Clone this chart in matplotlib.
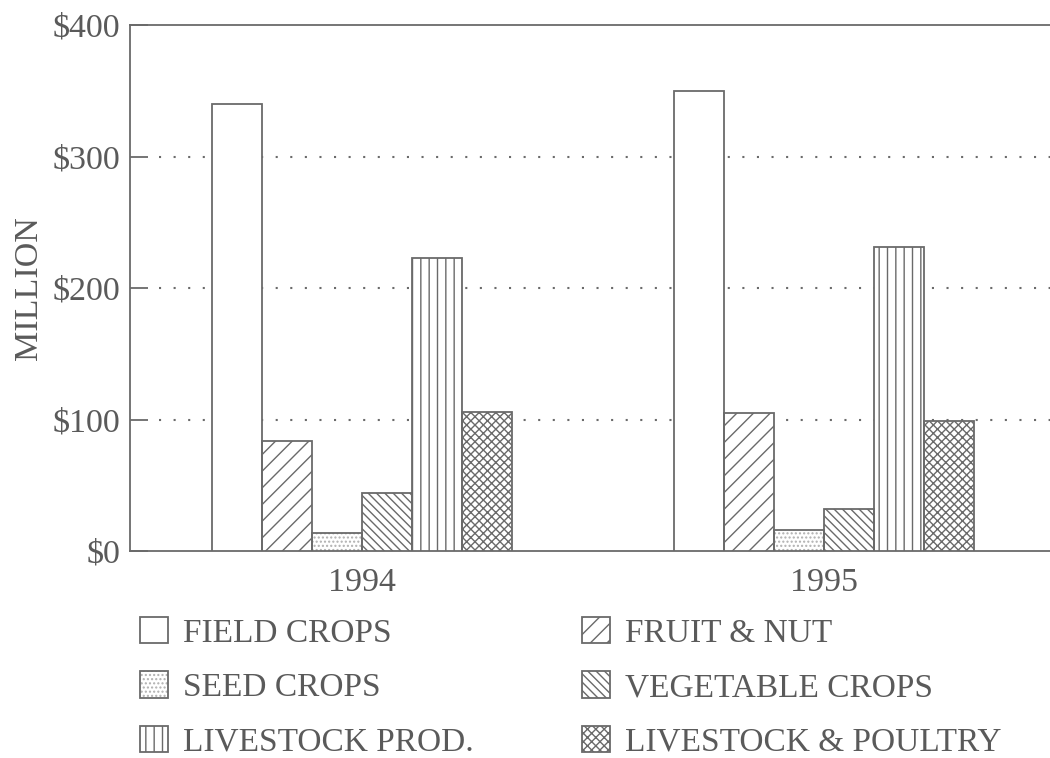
import numpy as np
import matplotlib
matplotlib.use('Agg')
import matplotlib.pyplot as plt
from matplotlib.patches import Rectangle

years = ['1994', '1995']
categories = ['FIELD CROPS', 'FRUIT & NUT', 'SEED CROPS',
              'VEGETABLE CROPS', 'LIVESTOCK PROD.', 'LIVESTOCK & POULTRY']
field_crops = [340, 350]
fruit_nut = [84, 105]
seed_crops = [14, 16]
vegetable_crops = [44, 32]
livestock_prod = [223, 231]
livestock_poultry = [106, 99]
y_ticks = [0, 100, 200, 300, 400]
y_tick_labels = ['$0', '$100', '$200', '$300', '$400']

series = [field_crops, fruit_nut, seed_crops,
          vegetable_crops, livestock_prod, livestock_poultry]
hatches = ['', '//', '....', '\\\\\\\\', '||', 'xxxx']

line_c = '#6a6a6a'
text_c = '#5a5a5a'
dot_c = '#b0b0b0'

plt.rcParams['font.family'] = 'Liberation Serif'
plt.rcParams['hatch.linewidth'] = 1.0
plt.rcParams['hatch.color'] = line_c

fig = plt.figure(figsize=(10.5, 7.58), dpi=100)
ax = fig.add_axes([130 / 1050, 1 - 551 / 758, 925 / 1050, 526 / 758])

x = np.arange(len(years))
w = 50 / 462
for i, (vals, h) in enumerate(zip(series, hatches)):
    ec = dot_c if h == '....' else line_c
    # hatch fill first, then the outline on top
    ax.bar(x + (i - 2.5) * w, vals, w, color='white', edgecolor=ec,
           hatch=h, linewidth=0, zorder=3)
    ax.bar(x + (i - 2.5) * w, vals, w, fill=False, edgecolor=line_c,
           linewidth=1.3, zorder=4)

ax.hlines([100, 200, 300], -0.44, 1.5, colors=line_c, linewidth=1.5,
          linestyles=(0, (1, 6)), zorder=1)

ax.set_xlim(-0.502, 1.5)
ax.set_ylim(0, 400)
ax.set_yticks(y_ticks)
ax.set_yticklabels(y_tick_labels)
ax.set_xticks(x)
ax.set_xticklabels(years)
ax.tick_params(axis='y', direction='in', length=13, width=1.3, color=line_c,
               labelsize=24.5, labelcolor=text_c, pad=7)
ax.tick_params(axis='x', length=0, labelsize=24.5, labelcolor=text_c, pad=12)
ax.set_ylabel('MILLION', fontsize=24.5, color=text_c, labelpad=6)
for s in ['left', 'top', 'bottom']:
    ax.spines[s].set_color(line_c)
    ax.spines[s].set_linewidth(1.3)
ax.spines['right'].set_visible(False)

handles = []
for h in hatches:
    ec = dot_c if h == '....' else line_c
    fill = Rectangle((0, 0), 1, 1, facecolor='white', edgecolor=ec,
                     hatch=h, linewidth=0)
    edge = Rectangle((0, 0), 1, 1, fill=False, edgecolor=line_c,
                     linewidth=1.3)
    handles.append((fill, edge))

cols = [(0, 2, 4), (1, 3, 5)]
anchors = [(140 / 1050, 1 - 617 / 758), (582 / 1050, 1 - 617 / 758)]
for idx, anc in zip(cols, anchors):
    fig.legend([handles[i] for i in idx], [categories[i] for i in idx],
               loc='upper left', bbox_to_anchor=anc, frameon=False,
               fontsize=24, labelcolor=text_c, handlelength=0.84,
               handleheight=0.84, handletextpad=0.45, labelspacing=0.68,
               borderpad=0, borderaxespad=0)

fig.savefig('out.png', dpi=100)
